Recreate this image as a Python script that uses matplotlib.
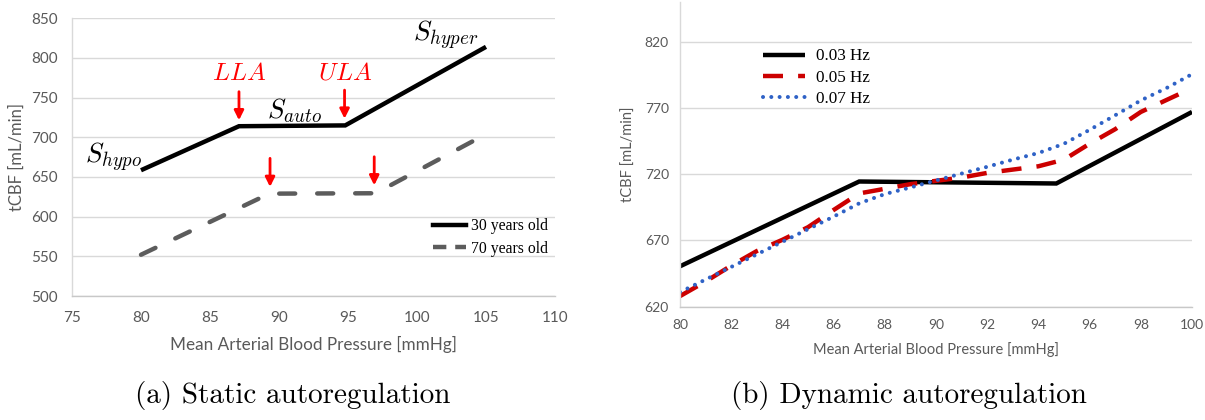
import matplotlib
matplotlib.use("Agg")
import matplotlib.pyplot as plt
from matplotlib.lines import Line2D

plt.rcParams['mathtext.fontset'] = 'cm'
plt.rcParams['font.family'] = ['Lato', 'DejaVu Sans']

# ---------------- data ----------------
# (a) static autoregulation
static_x_30 = [80, 87.1, 94.8, 105]
static_y_30 = [658.5, 714, 715, 814]
static_x_70 = [80, 89.3, 97.0, 105]
static_y_70 = [552, 629, 629.5, 704]
static_xticks = [75, 80, 85, 90, 95, 100, 105, 110]
static_yticks = [500, 550, 600, 650, 700, 750, 800, 850]
static_labels = ['30 years old', '70 years old']
arrow_x = [87.1, 94.75, 89.35, 96.9]
arrow_top = [757.5, 759.5, 673.5, 675.5]
arrow_tip = [721.5, 723.5, 637.5, 639.5]
limit_text = [r'$LLA$', r'$ULA$']
limit_x = [87.1, 94.8]
limit_y = [782, 782]
regime_text = [r'$S_{hypo}$', r'$S_{auto}$', r'$S_{hyper}$']
regime_x = [78.0, 91.1, 102.1]
regime_y = [675, 734, 828]

# (b) dynamic autoregulation
dyn_x_03 = [80, 87, 94.7, 100]
dyn_y_03 = [650.5, 714.5, 713, 767]
dyn_x = [80, 81, 82, 83, 84, 85, 86, 87, 88, 89, 90,
         91, 92, 93, 94, 95, 96, 97, 98, 99, 100]
dyn_y_05 = [628, 639, 651, 662, 670.5, 680, 693, 705.5, 709, 712.5, 715,
            717.5, 721, 723.5, 726, 731, 743, 754, 767, 776, 785]
dyn_y_07 = [631, 640.5, 650, 659.5, 669, 678.5, 688, 698, 705, 710, 715.3,
            720.5, 725.6, 731, 736, 743, 753.5, 764.5, 775.7, 785, 795.5]
dyn_xticks = [80, 82, 84, 86, 88, 90, 92, 94, 96, 98, 100]
dyn_yticks = [620, 670, 720, 770, 820]
dyn_labels = ['0.03 Hz', '0.05 Hz', '0.07 Hz']

captions = ['(a) Static autoregulation', '(b) Dynamic autoregulation']

# ---------------- figure ----------------
W, H = 1205, 420
fig = plt.figure(figsize=(W / 100, H / 100), dpi=100)

TXT = '#595959'
GRID = '#d9d9d9'


def style_axes(ax, tick_fs, xpad, ypad):
    ax.grid(axis='y', color=GRID, lw=1.0)
    ax.set_axisbelow(True)
    for s in ['top', 'right']:
        ax.spines[s].set_visible(False)
    ax.spines['left'].set_color(GRID)
    ax.spines['bottom'].set_color('#c8c8c8')
    ax.spines['left'].set_linewidth(1.0)
    ax.spines['bottom'].set_linewidth(1.0)
    ax.tick_params(axis='both', length=0, labelsize=tick_fs, colors=TXT)
    ax.tick_params(axis='x', pad=xpad)
    ax.tick_params(axis='y', pad=ypad)


# ---- left panel ----
ax1 = fig.add_axes([72 / W, 1 - 296 / H, (555 - 72) / W, (296 - 18.3) / H])
ax1.set_xlim(75, 110)
ax1.set_ylim(500, 850)
ax1.set_xticks(static_xticks)
ax1.set_yticks(static_yticks)
style_axes(ax1, 11, 11, 10)

ax1.plot(static_x_30, static_y_30, color='black', lw=3.2,
         solid_capstyle='butt', solid_joinstyle='miter')
ax1.plot(static_x_70, static_y_70, color='#5c5c5c', lw=3.2,
         dashes=(3.6, 4.95), dash_capstyle='round')

for x, t, b in zip(arrow_x, arrow_top, arrow_tip):
    ax1.annotate('', xy=(x, b), xytext=(x, t),
                 arrowprops=dict(arrowstyle='-|>', color='#ff0000', lw=2,
                                 mutation_scale=14, shrinkA=0, shrinkB=0))
for s, x, y in zip(limit_text, limit_x, limit_y):
    ax1.text(x, y, s, color='#ff0000', fontsize=18, ha='center', va='center')
for s, x, y in zip(regime_text, regime_x, regime_y):
    ax1.text(x, y, s, color='black', fontsize=19.5, ha='center', va='center')

h1 = [Line2D([], [], color='black', lw=3.2),
      Line2D([], [], color='#5c5c5c', lw=3.2, dashes=(3.0, 2.0))]
ax1.legend(h1, static_labels, loc='upper left',
           bbox_to_anchor=((433 - 72) / (555 - 72), (296 - 218.5) / (296 - 18.3)),
           frameon=False, borderpad=0, borderaxespad=0, handlelength=2.1,
           handletextpad=0.35, labelspacing=0.4,
           prop={'family': 'Liberation Serif', 'size': 11.3})

ax1.set_xlabel('Mean Arterial Blood Pressure [mmHg]', fontsize=12.3, color=TXT,
               labelpad=8)
ax1.set_ylabel('tCBF [mL/min]', fontsize=12, color=TXT, labelpad=5)

# ---- right panel ----
ax2 = fig.add_axes([680 / W, 1 - 306.7 / H, (1192 - 680) / W, (306.7 - 2) / H])
ax2.set_xlim(80, 100)
ax2.set_ylim(620, 850)
ax2.set_xticks(dyn_xticks)
ax2.set_yticks(dyn_yticks)
style_axes(ax2, 10, 9, 8)

l3, = ax2.plot(dyn_x_03, dyn_y_03, color='black', lw=3.2,
               solid_capstyle='butt', solid_joinstyle='miter')
l5, = ax2.plot(dyn_x, dyn_y_05, color='#cc0000', lw=3.2,
               dashes=(4.5, 3.4), dash_capstyle='butt')
l7, = ax2.plot(dyn_x, dyn_y_07, color='#2f62c6', lw=2.9,
               dashes=(0.01, 2.05), dash_capstyle='round')

ax2.legend([l3, l5, l7], dyn_labels, loc='upper left',
           bbox_to_anchor=((763 - 680) / (1192 - 680), (306.7 - 48.5) / (306.7 - 2)),
           frameon=False, borderpad=0, borderaxespad=0, handlelength=2.45,
           handletextpad=0.65, labelspacing=0.3,
           prop={'family': 'Liberation Serif', 'size': 12.3})

ax2.set_xlabel('Mean Arterial Blood Pressure [mmHg]', fontsize=10.5, color=TXT,
               labelpad=8)
ax2.set_ylabel('tCBF [mL/min]', fontsize=10.5, color=TXT, labelpad=6)

# ---- captions ----
fig.text(293 / W, 1 - 395 / H, captions[0], family='cmr10', fontsize=21,
         ha='center', va='center')
fig.text(909 / W, 1 - 395 / H, captions[1], family='cmr10', fontsize=21,
         ha='center', va='center')

fig.savefig('out.png', dpi=100)
